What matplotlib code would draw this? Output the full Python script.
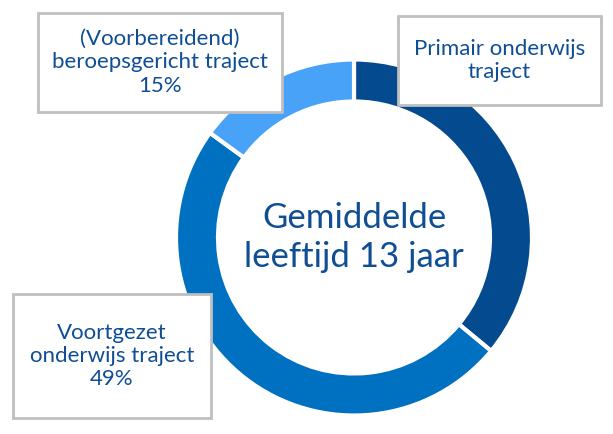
import matplotlib.pyplot as plt
from matplotlib.patches import Rectangle

# data
labels = ["Primair onderwijs\ntraject",
          "Voortgezet\nonderwijs traject\n49%",
          "(Voorbereidend)\nberoepsgericht traject\n15%"]
values = [36, 49, 15]
colors = ["#044A8E", "#0070C0", "#48A2F8"]
center_text = "Gemiddelde\nleeftijd 13 jaar"

# label boxes in pixel coords (x0, y0_top, x1, y1_bottom)
boxes = [(398, 16, 601, 105),
         (13, 294, 211, 418),
         (38, 13, 282, 112)]

W, H = 613, 434
TEXT = "#0F4E94"

plt.rcParams['font.family'] = ['Lato', 'DejaVu Sans']

fig = plt.figure(figsize=(W / 100, H / 100), dpi=100)
ax = fig.add_axes([0, 0, 1, 1])

cx, cy, r = 354, H - 237.5, 178
ax.pie(values, colors=colors, startangle=90, counterclock=False,
       center=(cx, cy), radius=r, frame=True,
       wedgeprops=dict(width=42, edgecolor='white', linewidth=3))
ax.set_xlim(0, W)
ax.set_ylim(0, H)
ax.set_aspect('equal')
ax.axis('off')

ax.text(cx, cy, center_text, ha='center', va='center', fontsize=25,
        color=TEXT, linespacing=1.3)

for lab, (x0, y0, x1, y1) in zip(labels, boxes):
    ax.add_patch(Rectangle((x0, H - y1), x1 - x0, y1 - y0, facecolor='white',
                           edgecolor='#BFBFBF', linewidth=2, zorder=3))
    ax.text((x0 + x1) / 2, H - (y0 + y1) / 2, lab, ha='center', va='center',
            fontsize=16, color=TEXT, linespacing=1.2, zorder=4)

fig.savefig("out.png", dpi=100)
